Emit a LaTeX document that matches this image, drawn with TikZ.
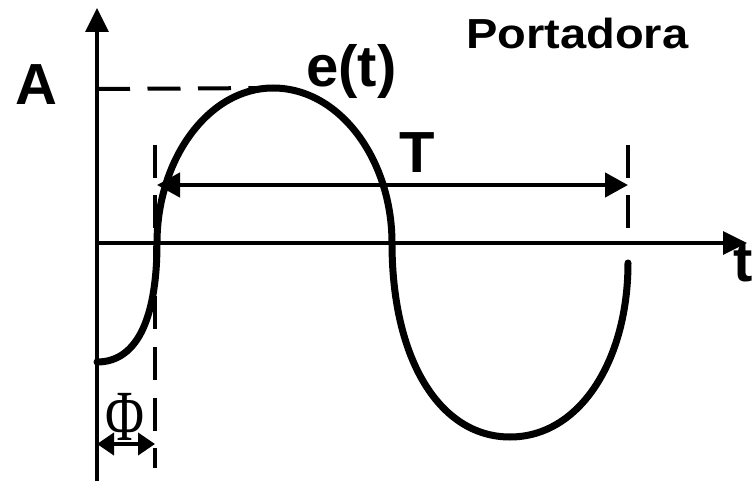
\documentclass[tikz,border=0pt]{standalone}
\usepackage{fontspec}
\setmainfont{Liberation Sans}
\newfontfamily\phifont{Liberation Serif}
\usetikzlibrary{arrows.meta}
\tikzset{
  axis/.style={line width=3.5pt, -{Triangle[length=24pt,width=23pt]}},
  guide/.style={line width=4pt, dash pattern=on 33pt off 17.5pt},
  wave/.style={line width=7pt, line cap=round},
  dim/.style={line width=4.5pt, {Triangle[length=23pt,width=24pt]}-{Triangle[length=23pt,width=24pt]}},
  lab/.style={inner sep=0pt, font=\bfseries\fontsize{58}{60}\selectfont},
}
\begin{document}
\begin{tikzpicture}[x=1pt,y=-1pt]
\useasboundingbox (0,0) rectangle (753,481);
% coordinates
\coordinate (ybot) at (97,481);
\coordinate (ytop) at (97,8);
\coordinate (xl) at (97,243);
\coordinate (xr) at (747,243);
\coordinate (peakL) at (97,89);
\coordinate (peak) at (273,88);
\coordinate (dLt) at (155,145);
\coordinate (dLb) at (155,468);
\coordinate (dRt) at (628,145);
\coordinate (dRb) at (628,230);
\coordinate (Tl) at (157,185);
\coordinate (Tr) at (628,185);
\coordinate (Pl) at (97,444);
\coordinate (Pr) at (155,444);
% guides
\draw[guide] (peakL) -- (peak);
\draw[guide] (dLt) -- (dLb);
\draw[guide] (dRt) -- (dRb);
% axes
\draw[axis] (ybot) -- (ytop);
\draw[axis] (xl) -- (xr);
% wave
\draw[wave] (97,362) .. controls (140,362) and (157,312) .. (157,243)
  .. controls (157,160) and (208,88) .. (peak)
  .. controls (340,88) and (392,160) .. (392,243)
  .. controls (392,360) and (440,437) .. (510,437)
  .. controls (580,437) and (628,360) .. (628,263);
% dimension arrows
\draw[dim] (Tl) -- (Tr);
\draw[line width=4pt, {Triangle[length=17pt,width=22pt]}-{Triangle[length=17pt,width=22pt]}] (Pl) -- (Pr);
% labels
\node[lab, anchor=base west] (A) at (15,105) {A};
\node[lab, anchor=base west] (e) at (306,87) {e(t)};
\node[lab, anchor=base] (T) at (417,173) {T};
\node[lab, anchor=base west] (t) at (733,282) {t};
\node[inner sep=0pt, anchor=base west, font=\bfseries\fontsize{42}{44}\selectfont] (P) at (466,49) {\scalebox{1.12}[1]{Portadora}};
\node[inner sep=0pt, anchor=base, font=\phifont\fontsize{72}{74}\selectfont] (phi) at (125,440) {\scalebox{0.74}[1]{Φ}};
\end{tikzpicture}
\end{document}
